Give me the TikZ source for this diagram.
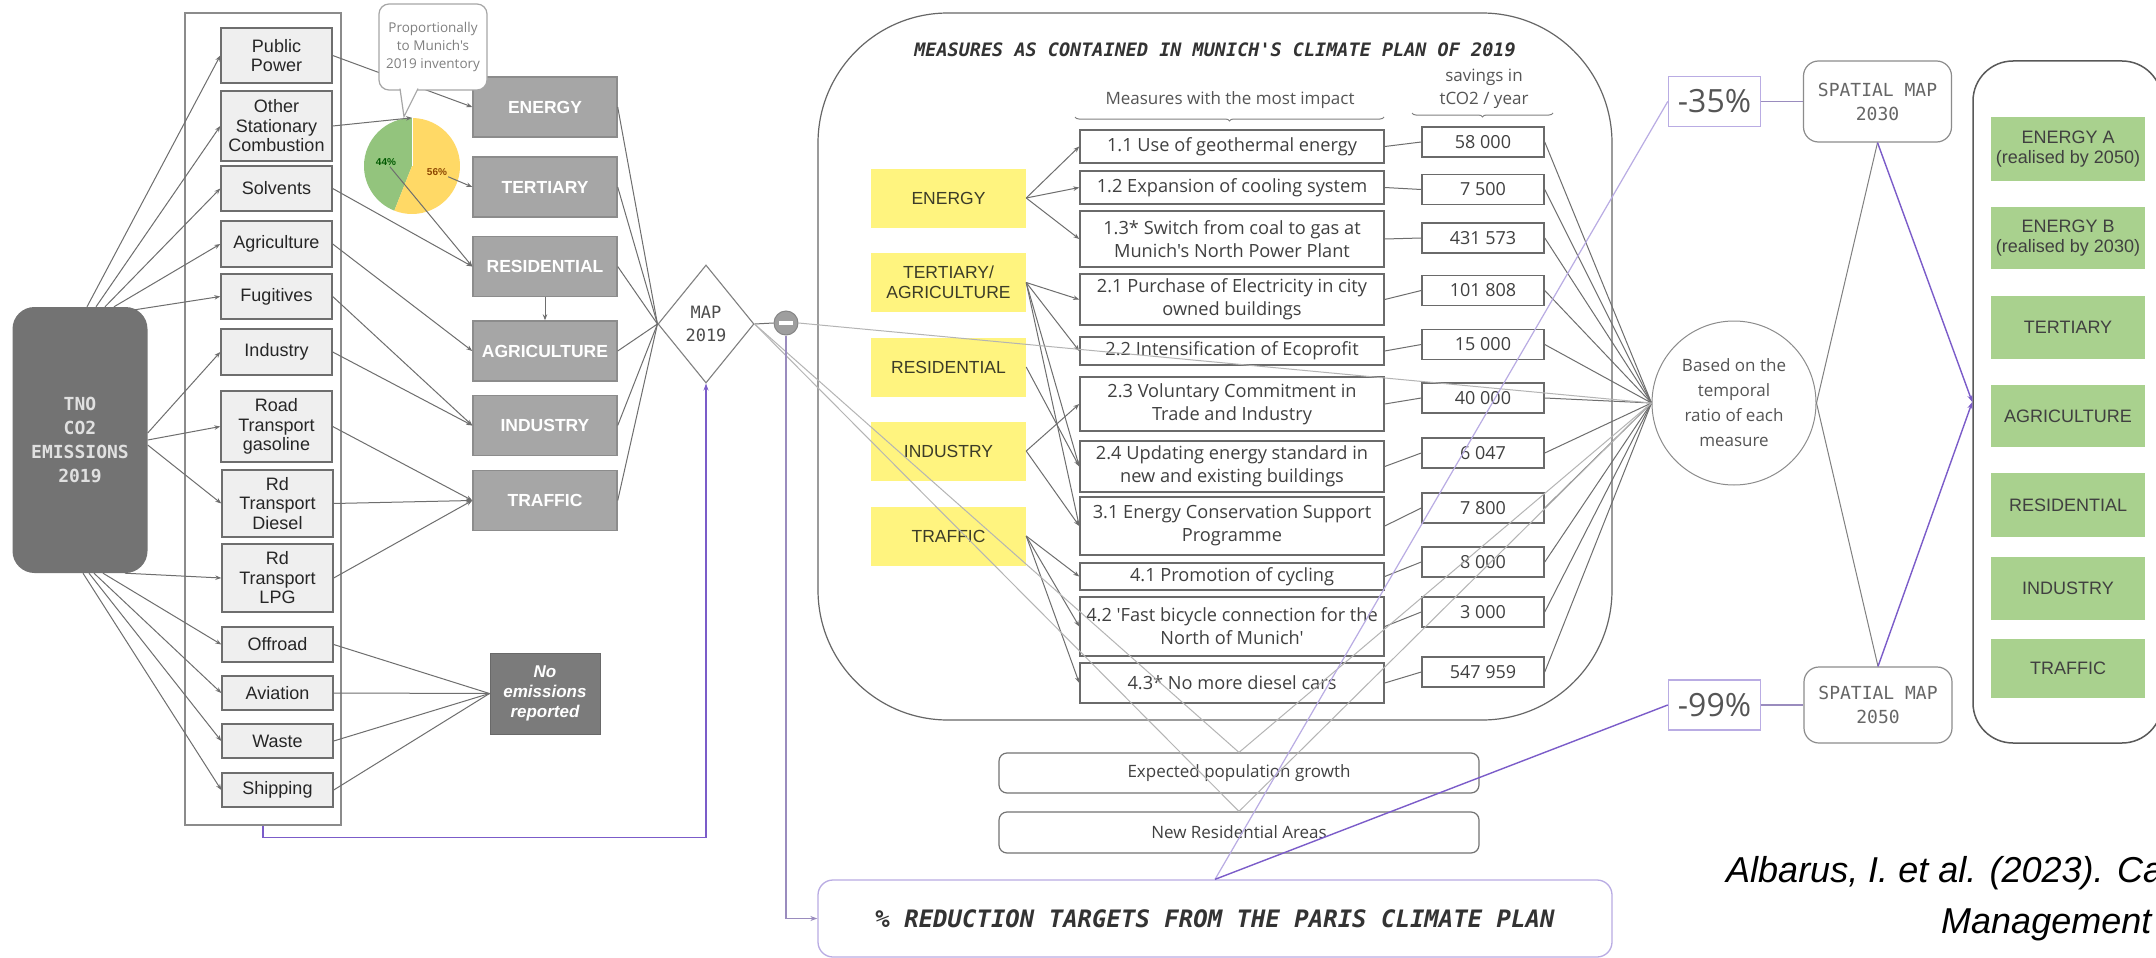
\documentclass[tikz,border=0pt]{standalone}
\usepackage{fontspec}
\setmainfont{Liberation Sans}
\newfontfamily\osans{Open Sans}
\newfontfamily\dmono{DejaVu Sans Mono}
\usetikzlibrary{arrows.meta,shapes.geometric,calc,decorations.pathreplacing}
\definecolor{lbf}{HTML}{EFEFEF}
\definecolor{lbd}{HTML}{6E6E6E}
\definecolor{dbf}{HTML}{A6A6A6}
\definecolor{dbd}{HTML}{8C8C8C}
\definecolor{tnof}{HTML}{737373}
\definecolor{noemf}{HTML}{7B7B7B}
\definecolor{yel}{HTML}{FFF47F}
\definecolor{ytxt}{HTML}{3C3C28}
\definecolor{grn}{HTML}{A9D18E}
\definecolor{pieg}{HTML}{93C47D}
\definecolor{piey}{HTML}{FFD966}
\definecolor{purp}{HTML}{7B5CC9}
\definecolor{lpurp}{HTML}{B9ACE3}
\definecolor{gpurp}{HTML}{9A8CBE}
\definecolor{lgc}{HTML}{6E6E6E}
\definecolor{llc}{HTML}{B4B4B4}
\definecolor{mbd}{HTML}{6A6A6A}
\definecolor{txg}{HTML}{555555}
\definecolor{mgray}{HTML}{9E9E9E}
\begin{document}
\begin{tikzpicture}[x=1pt,y=-1pt,
  lbox/.style={draw=lbd, fill=lbf, line width=1.4pt, minimum width=111pt, inner sep=0pt, align=center, text=black!85, font=\fontsize{18}{19.5}\selectfont},
  dbox/.style={draw=dbd, fill=dbf, line width=1.4pt, minimum width=144pt, minimum height=60pt, inner sep=0pt, text=white, font=\fontsize{17.5}{20}\selectfont\bfseries},
  ybox/.style={fill=yel, minimum width=155pt, minimum height=59pt, inner sep=0pt, align=center, text=ytxt, font=\fontsize{17.5}{20}\selectfont},
  mbox/.style={draw=mbd, fill=white, line width=1.5pt, minimum width=304pt, inner sep=0pt, align=center, text=black!75, font=\osans\fontsize{18.2}{23}\selectfont},
  sbox/.style={draw=mbd, fill=white, line width=1.5pt, minimum width=122pt, minimum height=30pt, inner sep=0pt, text=black!75, font=\osans\fontsize{18}{20}\selectfont},
  gbox/.style={fill=grn, minimum width=154pt, inner sep=0pt, align=center, text=black!75, font=\fontsize{18}{20}\selectfont},
  rbox/.style={draw=black!55, line width=1.2pt, fill=white, rounded corners=8pt, minimum width=480pt, inner sep=0pt, text=black!75, font=\osans\fontsize{17}{20}\selectfont},
  pbox/.style={draw=lpurp, line width=1.5pt, minimum width=92pt, minimum height=50pt, inner sep=0pt, text=txg, font=\osans\fontsize{32}{34}\selectfont},
  smap/.style={draw=black!45, line width=1.2pt, rounded corners=15pt, minimum width=148pt, inner sep=0pt, align=center, text=black!60, font=\dmono\fontsize{18}{24}\selectfont},
  conn/.style={draw=lgc, line width=1pt},
  lconn/.style={draw=llc, line width=1pt},
  arr/.style={conn, -{Stealth[length=6pt,width=4.5pt]}},
  pconn/.style={draw=purp, line width=1.4pt},
  parr/.style={pconn, -{Stealth[length=7pt,width=5pt]}}
]
\useasboundingbox (0,0) rectangle (2156,958);
\fill[white] (0,0) rectangle (2156,958);

% ---------- left column ----------
\node[draw=lbd!80, line width=1.3pt, minimum width=156pt, minimum height=812pt, inner sep=0pt] (outer) at (263,419) {};
\node[fill=tnof, rounded corners=22pt, minimum width=135pt, minimum height=266pt, inner sep=0pt, align=center, text=black!12, font=\dmono\bfseries\fontsize{18}{24}\selectfont] (tno) at (80,440) {TNO\\CO2\\EMISSIONS\\2019};

\node[lbox, minimum height=55pt] (pp) at (276.5,55.5) {Public\\Power};
\node[lbox, minimum height=70pt] (osc) at (276.5,126) {Other\\Stationary\\Combustion};
\node[lbox, minimum height=45pt] (solv) at (276.5,188.5) {Solvents};
\node[lbox, minimum height=46pt] (agri) at (276.5,244) {Agriculture};
\node[lbox, minimum height=45pt] (fug) at (276.5,296.5) {Fugitives};
\node[lbox, minimum height=46pt] (indu) at (276.5,352) {Industry};
\node[lbox, minimum height=71pt] (gas) at (276.5,426.5) {Road\\Transport\\gasoline};
\node[lbox, minimum height=67pt] (dies) at (277.5,503.5) {Rd\\Transport\\Diesel};
\node[lbox, minimum height=68pt] (lpg) at (277.5,578) {Rd\\Transport\\LPG};
\node[lbox, minimum height=35pt] (off) at (277.5,644.5) {Offroad};
\node[lbox, minimum height=34pt] (avi) at (277.5,693) {Aviation};
\node[lbox, minimum height=34pt] (waste) at (277.5,741) {Waste};
\node[lbox, minimum height=34pt] (ship) at (277.5,790) {Shipping};

\draw[arr] ($(tno.north)+(7,0)$) -- (pp.west);
\draw[arr] ($(tno.north)+(16,0)$) -- (osc.west);
\draw[arr] ($(tno.north)+(25,0)$) -- (solv.west);
\draw[arr] ($(tno.north)+(34,0)$) -- (agri.west);
\draw[arr] ($(tno.north east)+(-13,3)$) -- (fug.west);
\draw[arr] ($(tno.east)+(0,-7)$) -- (indu.west);
\draw[arr] (tno.east) -- (gas.west);
\draw[arr] ($(tno.east)+(0,5)$) -- (dies.west);
\draw[arr] ($(tno.south)+(45,0)$) -- (lpg.west);
\draw[arr] ($(tno.south)+(23,0)$) -- (off.west);
\draw[arr] ($(tno.south)+(14,0)$) -- (avi.west);
\draw[arr] ($(tno.south)+(9,0)$) -- (waste.west);
\draw[arr] ($(tno.south)+(3,0)$) -- (ship.west);

% ---------- pie ----------
\node[circle, minimum size=96pt, inner sep=0pt] (pie) at (412,166) {};
\fill[pieg] (pie.center) -- ++(-90:48) arc[start angle=-90, end angle=-248.4, radius=48] -- cycle;
\fill[piey] (pie.center) -- ++(-248.4:48) arc[start angle=-248.4, end angle=-450, radius=48] -- cycle;
\draw[white, line width=1pt] (pie.center) -- ++(-90:48);
\node[inner sep=1pt, text=green!35!black, font=\fontsize{10}{11}\selectfont\bfseries] (p44) at (386,162) {44\%};
\node[inner sep=1pt, text=orange!55!black, font=\fontsize{10}{11}\selectfont\bfseries] (p56) at (437,172) {56\%};

% ---------- dark sector boxes ----------
\node[dbox] (energy) at (545,107) {ENERGY};
\node[dbox] (tert) at (545,187) {TERTIARY};
\node[dbox] (res) at (545,266.5) {RESIDENTIAL};
\node[dbox] (agr) at (545,351) {AGRICULTURE};
\node[dbox] (ind) at (545,425.5) {INDUSTRY};
\node[dbox] (traf) at (545,500.5) {TRAFFIC};
\node[fill=noemf, draw=noemf!85!black, line width=1pt, minimum width=110pt, minimum height=81pt, inner sep=0pt, align=center, text=white, font=\fontsize{17}{20}\selectfont\bfseries\itshape] (noem) at (545,693.5) {No\\emissions\\reported};

\draw[arr] (pp.east) -- (energy.west);
\draw[arr] (osc.east) -- (pie.north);
\draw[arr] (p56) -- (tert.west);
\draw[arr] (p44) -- (res.west);
\draw[arr] (solv.east) -- (res.west);
\draw[arr] (res.south) -- (agr.north);
\draw[arr] (agri.east) -- (agr.west);
\draw[arr] (fug.east) -- (ind.west);
\draw[arr] (indu.east) -- (ind.west);
\draw[arr] (gas.east) -- (traf.west);
\draw[arr] (dies.east) -- (traf.west);
\draw[arr] (lpg.east) -- (traf.west);
\draw[conn] (off.east) -- (noem.west);
\draw[conn] (avi.east) -- (noem.west);
\draw[conn] (waste.east) -- (noem.west);
\draw[conn] (ship.east) -- (noem.west);

% ---------- MAP 2019 ----------
\node[diamond, draw=black!50, line width=1.1pt, minimum width=96pt, minimum height=118pt, inner sep=0pt, align=center, text=black!70, font=\dmono\fontsize{17}{23}\selectfont] (map) at (706,324) {MAP\\2019};
\foreach \n in {energy,tert,res,agr,ind,traf} \draw[conn] (\n.east) -- (map.west);
\node[circle, fill=mgray, draw=mgray!85!black, line width=1pt, minimum size=24pt, inner sep=0pt] (minus) at (786,323) {};
\fill[white] ($(minus.center)+(-7,-2)$) rectangle ($(minus.center)+(7,2)$);
\draw[conn] (map.east) -- (minus.west);

% ---------- measures container ----------
\node[draw=black!60, line width=1.2pt, rounded corners=130pt, minimum width=794pt, minimum height=707pt, inner sep=0pt] (mcont) at (1215,366.5) {};
\node[text=black!80, font=\dmono\bfseries\itshape\fontsize{18.5}{20}\selectfont] (title) at (1215,50) {MEASURES AS CONTAINED IN MUNICH'S CLIMATE PLAN OF 2019};
\node[text=txg, font=\osans\fontsize{17}{20}\selectfont] (mhead) at (1230,100) {Measures with the most impact};
\node[text=txg, align=center, font=\osans\fontsize{17}{23}\selectfont] (shead) at (1484,89) {savings in\\tCO2 / year};
\coordinate (b1l) at (1075,117);
\coordinate (b1r) at (1384,117);
\coordinate (b2l) at (1412,113);
\coordinate (b2r) at (1553,113);
\draw[black!50, line width=1pt, decorate, decoration={brace, mirror, amplitude=4pt}] (b1l) -- (b1r);
\draw[black!50, line width=1pt, decorate, decoration={brace, mirror, amplitude=4pt}] (b2l) -- (b2r);

\node[ybox] (yE) at (948.5,198) {ENERGY};
\node[ybox] (yT) at (948.5,282.5) {TERTIARY/\\AGRICULTURE};
\node[ybox] (yR) at (948.5,367) {RESIDENTIAL};
\node[ybox] (yI) at (948.5,451) {INDUSTRY};
\node[ybox] (yTr) at (948.5,536) {TRAFFIC};

\node[mbox, minimum height=33pt] (m11) at (1232,146.5) {1.1 Use of geothermal energy};
\node[mbox, minimum height=33pt] (m12) at (1232,187.5) {1.2 Expansion of cooling system};
\node[mbox, minimum height=56pt] (m13) at (1232,239) {1.3* Switch from coal to gas at\\Munich's North Power Plant};
\node[mbox, minimum height=51pt] (m21) at (1232,299.5) {2.1 Purchase of Electricity in city\\owned buildings};
\node[mbox, minimum height=28pt] (m22) at (1232,351) {2.2 Intensification of Ecoprofit};
\node[mbox, minimum height=54pt] (m23) at (1232,404) {2.3 Voluntary Commitment in\\Trade and Industry};
\node[mbox, minimum height=51pt] (m24) at (1232,466.5) {2.4 Updating energy standard in\\new and existing buildings};
\node[mbox, minimum height=58pt] (m31) at (1232,526) {3.1 Energy Conservation Support\\Programme};
\node[mbox, minimum height=27pt] (m41) at (1232,576.5) {4.1 Promotion of cycling};
\node[mbox, minimum height=59pt] (m42) at (1232,626.5) {4.2 'Fast bicycle connection for the\\North of Munich'};
\node[mbox, minimum height=40pt] (m43) at (1232,683) {4.3* No more diesel cars};

\node[sbox] (s11) at (1483,142) {58 000};
\node[sbox] (s12) at (1483,189.5) {7 500};
\node[sbox] (s13) at (1483,238) {431 573};
\node[sbox] (s21) at (1483,290.5) {101 808};
\node[sbox] (s22) at (1483,344.5) {15 000};
\node[sbox] (s23) at (1483,398) {40 000};
\node[sbox] (s24) at (1483,453) {6 047};
\node[sbox] (s31) at (1483,508) {7 800};
\node[sbox] (s41) at (1483,562) {8 000};
\node[sbox] (s42) at (1483,612) {3 000};
\node[sbox] (s43) at (1483,672) {547 959};

\draw[arr] (yE.east) -- (m11.west);
\draw[arr] (yE.east) -- (m12.west);
\draw[arr] (yE.east) -- (m13.west);
\draw[arr] (yT.east) -- (m21.west);
\draw[arr] (yT.east) -- (m22.west);
\draw[arr] (yT.east) -- (m24.west);
\draw[arr] (yT.east) -- (m31.west);
\draw[arr] (yR.east) -- (m24.west);
\draw[arr] (yI.east) -- (m23.west);
\draw[arr] (yI.east) -- (m31.west);
\draw[arr] (yTr.east) -- (m41.west);
\draw[arr] (yTr.east) -- (m42.west);
\draw[arr] (yTr.east) -- (m43.west);

\foreach \a in {11,12,13,21,22,23,24,31,41,42,43} \draw[conn] (m\a.east) -- (s\a.west);

% ---------- lower boxes ----------
\node[rbox, minimum height=40pt] (exp) at (1239,773) {Expected population growth};
\node[rbox, minimum height=41pt] (newres) at (1239,832.5) {New Residential Areas};
\node[draw=lpurp, line width=1.3pt, rounded corners=15pt, minimum width=794pt, minimum height=77pt, inner sep=0pt, text=black!80, font=\dmono\bfseries\itshape\fontsize{24}{26}\selectfont] (paris) at (1215,918.5) {\% REDUCTION TARGETS FROM THE PARIS CLIMATE PLAN};

% ---------- right part ----------
\node[circle, draw=black!45, line width=1pt, minimum size=164pt, inner sep=0pt, align=center, text=txg, font=\osans\fontsize{17}{25}\selectfont] (based) at (1734,403) {Based on the\\temporal\\ratio of each\\measure};
\foreach \a in {11,12,13,21,22,23,24,31,41,42,43} \draw[conn] (s\a.east) -- (based.west);
\draw[lconn] (minus.east) -- (based.west);
\draw[lconn] (map.east) -- (exp.north);
\draw[lconn] (map.east) -- (newres.north);
\draw[lconn] (exp.north) -- (based.west);
\draw[lconn] (newres.north) -- (based.west);

\node[pbox] (m35) at (1714.5,101.5) {-35\%};
\node[pbox] (m99) at (1714.5,705) {-99\%};
\node[smap, minimum height=81pt] (sm30) at (1877.5,101.5) {SPATIAL MAP\\2030};
\node[smap, minimum height=76pt] (sm50) at (1878,705) {SPATIAL MAP\\2050};
\draw[draw=gpurp, line width=1.4pt] (m35.east) -- (sm30.west);
\draw[draw=gpurp, line width=1.4pt] (m99.east) -- (sm50.west);
\draw[draw=lpurp, line width=1.2pt] (paris.north) -- (m35.west);
\draw[pconn] (paris.north) -- (m99.west);

\node[draw=black!65, line width=1.5pt, rounded corners=40pt, minimum width=189pt, minimum height=682pt, inner sep=0pt] (gcont) at (2067.5,402) {};
\node[gbox, minimum height=64pt] (gEA) at (2068,149) {ENERGY A\\(realised by 2050)};
\node[gbox, minimum height=62pt] (gEB) at (2068,238) {ENERGY B\\(realised by 2030)};
\node[gbox, minimum height=63pt] (gT) at (2068,327.5) {TERTIARY};
\node[gbox, minimum height=62pt] (gA) at (2068,416) {AGRICULTURE};
\node[gbox, minimum height=64pt] (gR) at (2068,505) {RESIDENTIAL};
\node[gbox, minimum height=63pt] (gI) at (2068,588.5) {INDUSTRY};
\node[gbox, minimum height=59pt] (gTr) at (2068,668.5) {TRAFFIC};

\draw[conn, draw=black!50] (based.east) -- (sm30.south);
\draw[conn, draw=black!50] (based.east) -- (sm50.north);
\draw[parr] (sm30.south) -- (gcont.west);
\draw[parr] (sm50.north) -- (gcont.west);

% ---------- purple feedback lines ----------
\draw[parr] (outer.south) -- ++(0,12) -| (map.south);
\draw[draw=gpurp, line width=1.6pt, -{Stealth[length=7pt,width=5pt]}] (minus.south) |- (paris.west);

% ---------- citation ----------
\node[anchor=west, inner sep=0pt, text=black, font=\fontsize{36}{40}\selectfont\itshape] (cite1) at (1726,873) {Albarus, I. et al. (2023). Ca};
\node[anchor=west, inner sep=0pt, text=black, font=\fontsize{36}{40}\selectfont\itshape] (cite2) at (1941,925) {Management};

% ---------- callout (on top) ----------
\node[draw=black!35, line width=1.2pt, fill=white, rounded corners=10pt, minimum width=108pt, minimum height=86pt, inner sep=0pt, align=center, text=black!50, font=\osans\fontsize{13.5}{18}\selectfont] (call) at (433,47) {Proportionally\\to Munich's\\2019 inventory};
\draw[draw=black!35, line width=1.2pt, fill=white] ($(call.south)+(-33,-2)$) -- ($(call.south)+(-29,26)$) -- ($(call.south)+(-15,-2)$);
\end{tikzpicture}
\end{document}
